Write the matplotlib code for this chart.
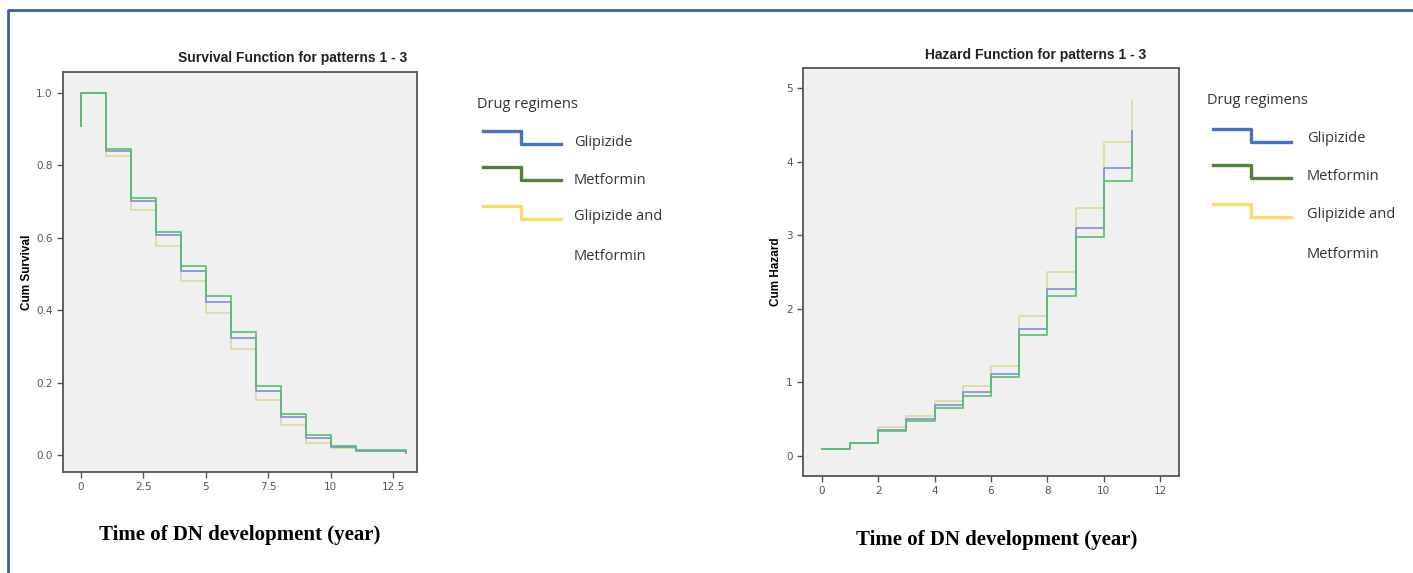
import matplotlib
matplotlib.use("Agg")
import matplotlib.pyplot as plt
from matplotlib.lines import Line2D
from matplotlib.ticker import FuncFormatter

# datos de las curvas
legend_labels = ["Glipizide", "Metformin", "Glipizide and", "Metformin"]
legend_colors = ["#4472C4", "#548235", "#FFD966"]
curve_colors = ["#7d8fd6", "#55c16a", "#e0d99c"]

surv_time = [0, 1, 2, 3, 4, 5, 6, 7, 8, 9, 10, 11, 13]
surv_start = 0.908
surv_glip = [1.0, 0.840, 0.701, 0.607, 0.509, 0.423, 0.324, 0.176, 0.105, 0.047, 0.022, 0.011, 0.005]
surv_metf = [1.0, 0.845, 0.711, 0.616, 0.523, 0.439, 0.340, 0.191, 0.114, 0.054, 0.025, 0.013, 0.006]
surv_both = [1.0, 0.826, 0.677, 0.577, 0.480, 0.391, 0.294, 0.151, 0.084, 0.034, 0.018, 0.010, 0.005]

haz_time = [0, 1, 2, 3, 4, 5, 6, 7, 8, 9, 10, 11]
haz_glip = [0.09, 0.18, 0.36, 0.51, 0.69, 0.87, 1.12, 1.73, 2.27, 3.10, 3.91, 4.42]
haz_metf = [0.09, 0.18, 0.34, 0.475, 0.65, 0.82, 1.07, 1.65, 2.17, 2.97, 3.73, 4.25]
haz_both = [0.09, 0.18, 0.39, 0.55, 0.75, 0.95, 1.23, 1.90, 2.50, 3.37, 4.27, 4.83]

surv_xticks = [0, 2.5, 5, 7.5, 10, 12.5]
surv_yticks = [0.0, 0.2, 0.4, 0.6, 0.8, 1.0]
haz_xticks = [0, 2, 4, 6, 8, 10, 12]
haz_yticks = [0, 1, 2, 3, 4, 5]

W, H = 1413, 573
fig = plt.figure(figsize=(W / 100, H / 100), dpi=100)


def fx(px):
    return px / W


def fy(py):
    return 1 - py / H


def style_axes(ax):
    ax.set_facecolor("#F0F0F0")
    for s in ax.spines.values():
        s.set_color("#555555")
        s.set_linewidth(1.3)
    ax.tick_params(direction="out", length=4, width=1, color="#555555",
                   labelsize=7.5, labelcolor="#555555")


# --- Survival ---
ax1 = fig.add_axes([fx(63), fy(472), fx(417) - fx(63), fy(72) - fy(472)])
style_axes(ax1)
for vals, c in [(surv_both, curve_colors[2]), (surv_glip, curve_colors[0]), (surv_metf, curve_colors[1])]:
    ax1.step([surv_time[0]] + surv_time, [surv_start] + vals, where="post", color=c, lw=1.2)
ax1.set_xlim(-0.72, 13.46)
ax1.set_ylim(-0.047, 1.058)
ax1.set_xticks(surv_xticks)
ax1.set_yticks(surv_yticks)
ax1.xaxis.set_major_formatter(FuncFormatter(lambda v, p: "%g" % v))
ax1.yaxis.set_major_formatter(FuncFormatter(lambda v, p: "%.1f" % v))
ax1.set_ylabel("Cum Survival", fontsize=8.5, fontweight="bold", family="Liberation Sans")
ax1.yaxis.set_label_coords(-0.085, 0.5)

# --- Hazard ---
ax2 = fig.add_axes([fx(803), fy(476), fx(1179) - fx(803), fy(68) - fy(476)])
style_axes(ax2)
for vals, c in [(haz_both, curve_colors[2]), (haz_glip, curve_colors[0]), (haz_metf, curve_colors[1])]:
    ax2.step(haz_time, vals, where="post", color=c, lw=1.2)
ax2.set_xlim(-0.67, 12.67)
ax2.set_ylim(-0.27, 5.27)
ax2.set_xticks(haz_xticks)
ax2.set_yticks(haz_yticks)
ax2.set_ylabel("Cum Hazard", fontsize=8.5, fontweight="bold", family="Liberation Sans")
ax2.yaxis.set_label_coords(-0.056, 0.5)

# titulos y etiquetas
fig.text(fx(178), fy(58), "Survival Function for patterns 1 - 3", ha="left", va="center",
         fontsize=10, fontweight="bold", family="Liberation Sans", color="#222222")
fig.text(fx(925), fy(55), "Hazard Function for patterns 1 - 3", ha="left", va="center",
         fontsize=10, fontweight="bold", family="Liberation Sans", color="#222222")
fig.text(fx(240), fy(535), "Time of DN development (year)", ha="center", va="center",
         fontsize=15, fontweight="bold", family="Liberation Serif")
fig.text(fx(997), fy(540), "Time of DN development (year)", ha="center", va="center",
         fontsize=15, fontweight="bold", family="Liberation Serif")


# leyendas dibujadas a mano (forma escalonada como en SPSS)
def draw_legend(x0, title_y, rows_y, label_ys, label_x):
    fig.text(fx(x0 - 6), fy(title_y), "Drug regimens", ha="left", va="center",
             fontsize=10.5, family="Open Sans", color="#333333")
    for i, col in enumerate(legend_colors):
        y = rows_y[i]
        xs = [x0, x0 + 38, x0 + 38, x0 + 78]
        ys = [y, y, y + 13, y + 13]
        fig.add_artist(Line2D([fx(v) for v in xs], [fy(v) for v in ys], color=col, lw=2.4))
    for lab, ly in zip(legend_labels, label_ys):
        fig.text(fx(label_x), fy(ly), lab, ha="left", va="center",
                 fontsize=10.5, family="Open Sans", color="#333333")


draw_legend(483, 104, [131, 167, 206], [142, 180, 217, 256], 574)
draw_legend(1213, 101, [129, 165, 204], [138, 177, 214, 255], 1307)

# marco azul
fig.add_artist(Line2D([fx(8), fx(8), fx(1413)], [fy(573), fy(10), fy(10)], color="#3A5FA8", lw=2))

fig.savefig("out.png", dpi=100)
